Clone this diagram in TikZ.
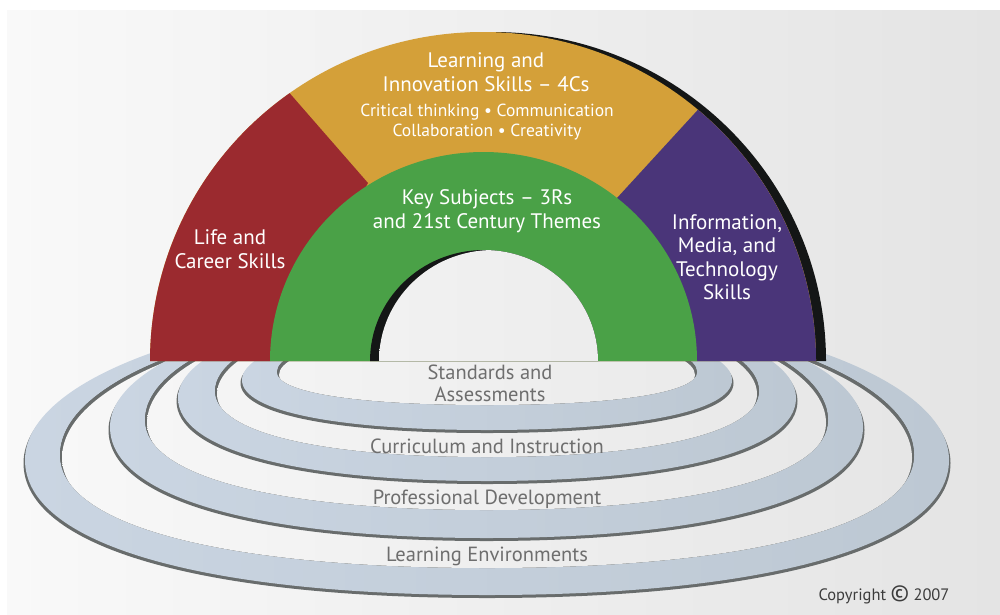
\documentclass[tikz,border=0pt]{standalone}
\usepackage{fontspec}
\setmainfont{PT Sans}
\definecolor{redc}{RGB}{155,42,47}
\definecolor{yelc}{RGB}{212,160,57}
\definecolor{grnc}{RGB}{74,161,71}
\definecolor{purc}{RGB}{74,53,121}
\definecolor{shdc}{RGB}{20,22,22}
\definecolor{bgL}{RGB}{249,249,249}
\definecolor{bgR}{RGB}{228,228,228}
\definecolor{bandL}{RGB}{202,213,226}
\definecolor{bandM}{RGB}{211,219,228}
\definecolor{bandR}{RGB}{189,200,211}
\definecolor{wallc}{RGB}{104,108,108}
\definecolor{ringtxt}{RGB}{110,110,110}
\definecolor{copytxt}{RGB}{60,60,60}
\def\kk{0.62}
\newcommand\ringshape[5]{(#1-#3,#2) .. controls (#1-#3,#2-0.552*#4) and (#1-0.552*#3,#2-#4) .. (#1,#2-#4) .. controls (#1+0.552*#3,#2-#4) and (#1+#3,#2-0.552*#4) .. (#1+#3,#2) .. controls (#1+#3,#2+\kk*#5) and (#1+\kk*#3,#2+#5) .. (#1,#2+#5) .. controls (#1-\kk*#3,#2+#5) and (#1-#3,#2+\kk*#5) .. (#1-#3,#2) -- cycle}
\newcommand\bgrect{\shade[left color=bgL, right color=bgR] (7,10) rectangle (1000,614);}
\newcommand\ringdraw[9]{%
  \pgfmathsetmacro\wcy{#2+3}\pgfmathsetmacro\wrx{#3+1.5}%
  \pgfmathsetmacro\fcy{#6+3}\pgfmathsetmacro\frx{#7-2}%
  \fill[wallc] \ringshape{#1}{\wcy}{\wrx}{#4}{#5};
  \shade[left color=bandL, middle color=bandM, right color=bandR, even odd rule]
    \ringshape{#1}{#2}{#3}{#4}{#5} \ringshape{#1}{#6}{#7}{#8}{#9};
  \begin{scope}
    \clip \ringshape{#1}{#6}{#7}{#8}{#9};
    \fill[wallc] (0,0) rectangle (1000,614);
    \clip \ringshape{#1}{\fcy}{\frx}{#8}{#9};
    \bgrect
  \end{scope}}
\tikzset{
  archtxt/.style={text=white, align=center, inner sep=0pt, font=\fontsize{21}{23.5}\selectfont},
  smalltxt/.style={text=white, align=center, inner sep=0pt, font=\fontsize{17.5}{20}\selectfont},
  ringlbl/.style={text=ringtxt, align=center, inner sep=0pt, font=\fontsize{20.5}{22}\selectfont},
}
\begin{document}
\begin{tikzpicture}[x=1pt,y=-1pt]
\useasboundingbox (0,0) rectangle (1000,614);
\fill[white] (0,0) rectangle (1000,614);
\bgrect
% rings (outermost first)
\ringdraw{487}{460}{462}{156}{135}{455}{427}{147}{113}
\ringdraw{486.5}{427}{376.5}{126}{111}{420}{341.5}{120}{90}
\ringdraw{487}{398}{309}{95}{83}{391}{272}{85}{66}
\ringdraw{487}{380}{245}{60}{50}{372}{210}{45}{33}
% arch shadow
\fill[shdc, shift={(10,0)}] (150,361) arc[start angle=180, end angle=360, x radius=333, y radius=329] -- cycle;
% yellow
\fill[yelc] (150,361) arc[start angle=180, end angle=360, x radius=333, y radius=329] -- cycle;
% red
\fill[redc] (150,361) arc[start angle=180, end angle=234.5, x radius=333, y radius=329] -- (368,183) -- (270,361) -- cycle;
% purple
\fill[purc] (483,361) ++(310.2:333 and 329) arc[start angle=310.2, end angle=360, x radius=333, y radius=329] -- (697,361) -- (617,198) -- cycle;
% green
\fill[grnc] (270,361) arc[start angle=180, end angle=360, x radius=213.5, y radius=209] -- cycle;
% hole
\fill[shdc] (370,361) arc[start angle=180, end angle=360, x radius=114, y radius=111] -- cycle;
\begin{scope}
  \clip (370,361) arc[start angle=180, end angle=360, x radius=114, y radius=111] -- cycle;
  \clip[shift={(9,0)}] (370,361) arc[start angle=180, end angle=360, x radius=114, y radius=111] -- cycle;
  \bgrect
\end{scope}
% texts
\node[archtxt] (lis) at (486,72) {Learning and\\Innovation Skills – 4Cs};
\node[smalltxt] (cc) at (487,122) {Critical thinking • Communication\\Collaboration • Creativity};
\node[archtxt] (key) at (487,211) {Key Subjects – 3Rs\\and 21st Century Themes};
\node[archtxt] (life) at (230,249) {Life and\\Career Skills};
\node[archtxt] (info) at (727,257) {Information,\\Media, and\\Technology\\Skills};
\node[ringlbl] (sa) at (490,383) {Standards and\\Assessments};
\node[ringlbl] (ci) at (487,446) {Curriculum and Instruction};
\node[ringlbl] (pd) at (487,499) {Professional Development};
\node[ringlbl] (le) at (487,556) {Learning Environments};
\node[text=copytxt, inner sep=0pt, font=\fontsize{16.5}{18}\selectfont] (cp) at (884,595) {Copyright {\fontsize{23}{23}\selectfont\textcopyright} 2007};
\end{tikzpicture}
\end{document}
